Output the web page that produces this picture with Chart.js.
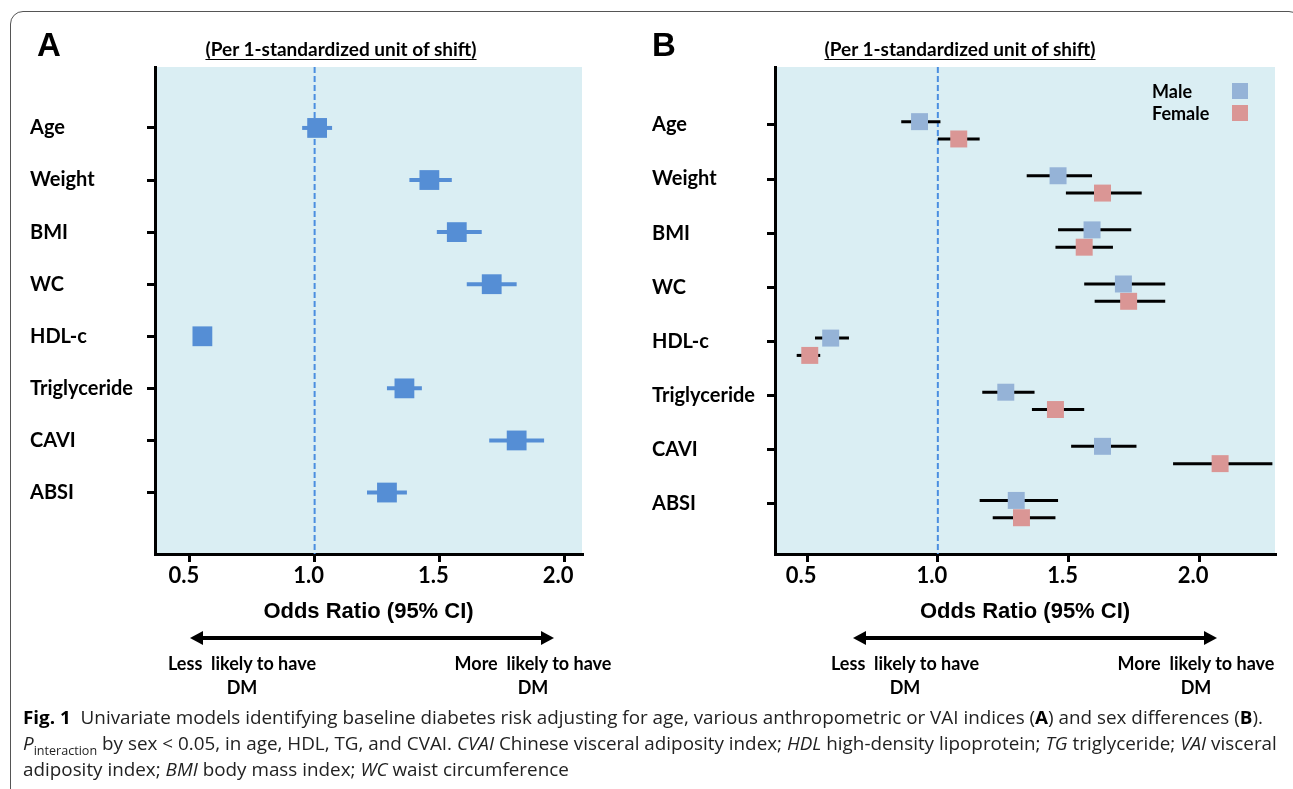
<!DOCTYPE html>
<html>
<head>
<meta charset="utf-8">
<script src="https://cdn.jsdelivr.net/npm/chart.js@4.4.0/dist/chart.umd.min.js"></script>
<style>
  body { margin: 0; width: 1293px; height: 789px; background: #fff; position: relative; overflow: hidden; font-family: Lato, sans-serif; color: #000; }
  .frame { position: absolute; left: 10px; top: 11px; width: 1292px; height: 820px; border: 1.5px solid #555; border-radius: 13px; box-sizing: border-box; }
  .letter { position: absolute; font: bold 33px "Liberation Sans", Arial, sans-serif; line-height: 33px; }
  .sub { position: absolute; width: 400px; text-align: center; font: bold 19px Lato, sans-serif; line-height: 22px; text-decoration: underline; text-underline-offset: 3px; }
  .note { position: absolute; width: 240px; text-align: center; font: bold 18px Lato, sans-serif; line-height: 22px; white-space: pre; }
  .leg { position: absolute; font: bold 18px Lato, sans-serif; line-height: 20px; }
  .sw { position: absolute; width: 16px; height: 16px; }
  canvas { position: absolute; top: 0; }
  .cap { position: absolute; left: 23px; font: 18px "Open Sans", sans-serif; line-height: 24px; white-space: nowrap; transform-origin: 0 50%; color: #222; }
  .cap b { font-weight: bold; color: #000; }
  svg { position: absolute; left: 0; top: 0; }
</style>
</head>
<body>
<div class="frame"></div>
<canvas id="chartA" width="620" height="640" style="left:0"></canvas>
<canvas id="chartB" width="653" height="640" style="left:640px"></canvas>

<div class="letter" style="left:37px;top:28px">A</div>
<div class="letter" style="left:652px;top:28px">B</div>
<div class="sub" style="left:141px;top:38px">(Per 1-standardized unit of shift)</div>
<div class="sub" style="left:760px;top:38px">(Per 1-standardized unit of shift)</div>

<div id="legend"></div>

<svg width="1293" height="789">
  <g fill="#000" stroke="#000">
    <line x1="200" y1="638" x2="544" y2="638" stroke-width="4"/>
    <polygon points="190,638 203,631 203,645" stroke="none"/>
    <polygon points="554,638 541,631 541,645" stroke="none"/>
    <line x1="863" y1="638" x2="1207" y2="638" stroke-width="4"/>
    <polygon points="853,638 866,631 866,645" stroke="none"/>
    <polygon points="1217,638 1204,631 1204,645" stroke="none"/>
  </g>
</svg>

<div class="note" style="left:122px;top:652px">Less  likely to have</div>
<div class="note" style="left:122px;top:676px">DM</div>
<div class="note" style="left:413px;top:652px">More  likely to have</div>
<div class="note" style="left:413px;top:676px">DM</div>
<div class="note" style="left:785px;top:652px">Less  likely to have</div>
<div class="note" style="left:785px;top:676px">DM</div>
<div class="note" style="left:1076px;top:652px">More  likely to have</div>
<div class="note" style="left:1076px;top:676px">DM</div>

<div class="cap" id="cap1" style="top:705px"><b>Fig. 1</b>&nbsp; Univariate models identifying baseline diabetes risk adjusting for age, various anthropometric or VAI indices (<b>A</b>) and sex differences (<b>B</b>).</div>
<div class="cap" id="cap2" style="top:731px"><i>P</i><sub style="font-size:12px">interaction</sub> by sex &lt; 0.05, in age, HDL, TG, and CVAI. <i>CVAI</i> Chinese visceral adiposity index; <i>HDL</i> high-density lipoprotein; <i>TG</i> triglyceride; <i>VAI</i> visceral</div>
<div class="cap" id="cap3" style="top:757px">adiposity index; <i>BMI</i> body mass index; <i>WC</i> waist circumference</div>

<script>
var categories = ['Age', 'Weight', 'BMI', 'WC', 'HDL-c', 'Triglyceride', 'CAVI', 'ABSI'];
var xTicks = [0.5, 1.0, 1.5, 2.0];
var refLine = 1.0;

// panel A, all subjects: odds ratio and 95% CI
var orAll = [1.01, 1.46, 1.57, 1.71, 0.55, 1.36, 1.81, 1.29];
var loAll = [0.95, 1.38, 1.49, 1.61, 0.53, 1.29, 1.70, 1.21];
var hiAll = [1.07, 1.55, 1.67, 1.81, 0.57, 1.43, 1.92, 1.37];

// panel B, by sex
var sexNames = ['Male', 'Female'];
var orMale = [0.93, 1.46, 1.59, 1.71, 0.59, 1.26, 1.63, 1.30];
var loMale = [0.86, 1.34, 1.46, 1.56, 0.53, 1.17, 1.51, 1.16];
var hiMale = [1.01, 1.59, 1.74, 1.87, 0.66, 1.37, 1.76, 1.46];
var orFemale = [1.08, 1.63, 1.56, 1.73, 0.51, 1.45, 2.08, 1.32];
var loFemale = [1.00, 1.49, 1.45, 1.60, 0.46, 1.36, 1.90, 1.21];
var hiFemale = [1.16, 1.78, 1.67, 1.87, 0.55, 1.56, 2.28, 1.45];

var colorAll = '#558ED5';
var sexColors = ['#95B3D7', '#DA9695'];
var bgColor = '#DAEEF3';

function points(or, lo, hi, shift) {
  return or.map(function(v, i) {
    return {x: v, y: i + 1 + shift, lo: lo[i], hi: hi[i]};
  });
}

var forestPlugin = {
  id: 'forest',
  beforeDraw: function(chart) {
    var a = chart.chartArea, ctx = chart.ctx;
    ctx.save();
    ctx.fillStyle = bgColor;
    ctx.fillRect(a.left, a.top, a.right - a.left, a.bottom - a.top);
    ctx.restore();
  },
  beforeDatasetsDraw: function(chart) {
    var ctx = chart.ctx, a = chart.chartArea;
    var xs = chart.scales.x, ys = chart.scales.y;
    ctx.save();
    // reference line at OR = 1
    var rx = xs.getPixelForValue(refLine);
    ctx.strokeStyle = '#4A8EE0';
    ctx.lineWidth = 2;
    ctx.setLineDash([6, 3]);
    ctx.beginPath();
    ctx.moveTo(rx, a.top);
    ctx.lineTo(rx, a.bottom);
    ctx.stroke();
    ctx.setLineDash([]);
    // whiskers
    chart.data.datasets.forEach(function(ds) {
      ctx.strokeStyle = ds.whiskerColor;
      ctx.lineWidth = ds.whiskerWidth;
      ds.data.forEach(function(p) {
        var py = ys.getPixelForValue(p.y);
        ctx.beginPath();
        ctx.moveTo(xs.getPixelForValue(p.lo), py);
        ctx.lineTo(xs.getPixelForValue(p.hi), py);
        ctx.stroke();
      });
    });
    ctx.restore();
  }
};

function axes(xmin, xmax, ymin, ymax, yWidth) {
  var grid = {color: '#000', lineWidth: 3, drawOnChartArea: false, tickLength: 8};
  return {
    x: {
      type: 'linear', min: xmin, max: xmax,
      afterBuildTicks: function(s) { s.ticks = xTicks.map(function(v) { return {value: v}; }); },
      afterFit: function(s) { s.height = 86; },
      ticks: {
        color: '#000', padding: 1, labelOffset: -6,
        font: {family: 'Lato', weight: 'bold', size: 22},
        callback: function(v) { return v.toFixed(1); }
      },
      grid: grid,
      border: {display: true, color: '#000', width: 3},
      title: {
        display: true, text: 'Odds Ratio (95% CI)', color: '#000',
        font: {family: 'Liberation Sans', weight: 'bold', size: 22},
        padding: {top: 0, bottom: 15}
      }
    },
    y: {
      type: 'linear', min: ymin, max: ymax, reverse: true,
      afterBuildTicks: function(s) { s.ticks = categories.map(function(c, i) { return {value: i + 1}; }); },
      afterFit: function(s) { s.width = yWidth; },
      ticks: {
        color: '#000', crossAlign: 'far',
        font: {family: 'Lato', weight: 'bold', size: 20},
        callback: function(v) { return categories[v - 1]; }
      },
      grid: grid,
      border: {display: true, color: '#000', width: 3}
    }
  };
}

new Chart(document.getElementById('chartA'), {
  type: 'scatter',
  plugins: [forestPlugin],
  data: {
    datasets: [{
      label: 'All',
      data: points(orAll, loAll, hiAll, 0),
      pointStyle: 'rect',
      pointRadius: 14,
      backgroundColor: colorAll,
      borderWidth: 0,
      whiskerColor: colorAll,
      whiskerWidth: 4
    }]
  },
  options: {
    responsive: false,
    animation: false,
    events: [],
    layout: {padding: {left: 30, top: 67, right: 38, bottom: 0}},
    plugins: {legend: {display: false}, tooltip: {enabled: false}},
    scales: axes(0.36, 2.072, -0.17, 9.18, 125)
  }
});

new Chart(document.getElementById('chartB'), {
  type: 'scatter',
  plugins: [forestPlugin],
  data: {
    datasets: [{
      label: sexNames[0],
      data: points(orMale, loMale, hiMale, -0.06),
      pointStyle: 'rect',
      pointRadius: 12,
      backgroundColor: sexColors[0],
      borderWidth: 0,
      whiskerColor: '#000',
      whiskerWidth: 3
    }, {
      label: sexNames[1],
      data: points(orFemale, loFemale, hiFemale, 0.26),
      pointStyle: 'rect',
      pointRadius: 12,
      backgroundColor: sexColors[1],
      borderWidth: 0,
      whiskerColor: '#000',
      whiskerWidth: 3
    }]
  },
  options: {
    responsive: false,
    animation: false,
    events: [],
    layout: {padding: {left: 12, top: 67, right: 18, bottom: 0}},
    plugins: {legend: {display: false}, tooltip: {enabled: false}},
    scales: axes(0.377, 2.29, -0.07, 8.93, 123)
  }
});

// legend for panel B: name on the left, swatch on the right
var leg = document.getElementById('legend');
sexNames.forEach(function(name, i) {
  var t = document.createElement('div');
  t.className = 'leg';
  t.style.left = '1152px';
  t.style.top = (81 + i * 22) + 'px';
  t.textContent = name;
  leg.appendChild(t);
  var s = document.createElement('div');
  s.className = 'sw';
  s.style.left = '1232px';
  s.style.top = (83 + i * 22) + 'px';
  s.style.background = sexColors[i];
  leg.appendChild(s);
});

// squeeze caption to the printed width
var c1 = document.getElementById('cap1');
var k = 1240 / c1.getBoundingClientRect().width;
['cap1', 'cap2', 'cap3'].forEach(function(id) {
  document.getElementById(id).style.transform = 'scaleX(' + k + ')';
});
</script>
</body>
</html>
